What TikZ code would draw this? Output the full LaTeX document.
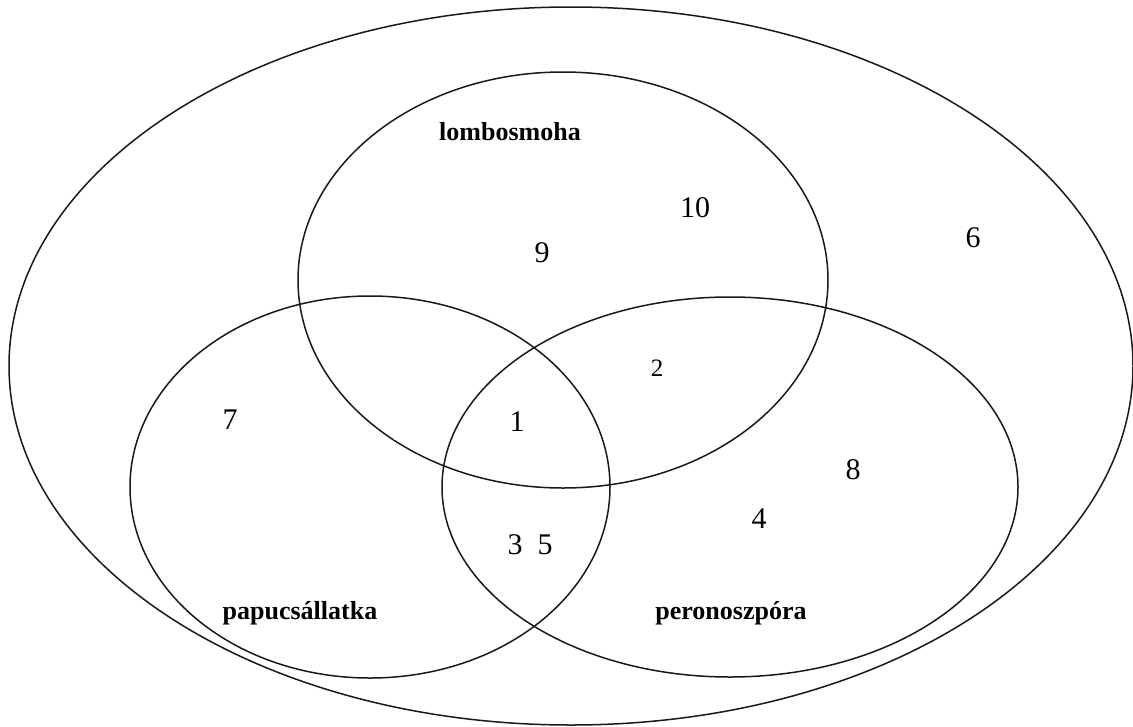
\documentclass[tikz,border=0pt]{standalone}
\usepackage{fontspec}
\setmainfont{Liberation Serif}
\usetikzlibrary{shapes.geometric}
\begin{document}
\begin{tikzpicture}[x=1pt,y=-1pt,
  set/.style={draw=black!90, line width=1.5pt, ellipse, inner sep=0pt},
  num/.style={font=\fontsize{30}{30}\selectfont, inner sep=0pt},
  small/.style={font=\fontsize{25}{25}\selectfont, inner sep=0pt},
  lbl/.style={font=\fontsize{26}{26}\selectfont\bfseries, inner sep=0pt}]
\useasboundingbox (0,0) rectangle (1133,726);
\fill[white] (0,0) rectangle (1133,726);
\node[set, minimum width=1124pt, minimum height=718pt] (outer) at (571,366) {};
\node[set, minimum width=530pt, minimum height=416pt] (lomb) at (563,280) {};
\node[set, minimum width=480pt, minimum height=382pt] (papu) at (370,487) {};
\node[set, minimum width=576pt, minimum height=380pt] (pero) at (730,487) {};
\fill[white] (394,435) rectangle (397,440);
\node[lbl] (l1) at (510,132) {lombosmoha};
\node[lbl] (l2) at (300,613) {papucsállatka};
\node[lbl] (l3) at (731,613) {peronoszpóra};
\node[num] (n10) at (695,208) {10};
\node[num] (n9) at (542,253) {9};
\node[num] (n6) at (973,238) {6};
\node[small] (n2) at (657,368) {2};
\node[num] (n7) at (230,420) {7};
\node[num] (n1) at (517,422) {1};
\node[num] (n8) at (853,470) {8};
\node[num] (n4) at (759,519) {4};
\node[num] (n35) at (530,545) {3\hspace{0.5em}5};
\end{tikzpicture}
\end{document}
